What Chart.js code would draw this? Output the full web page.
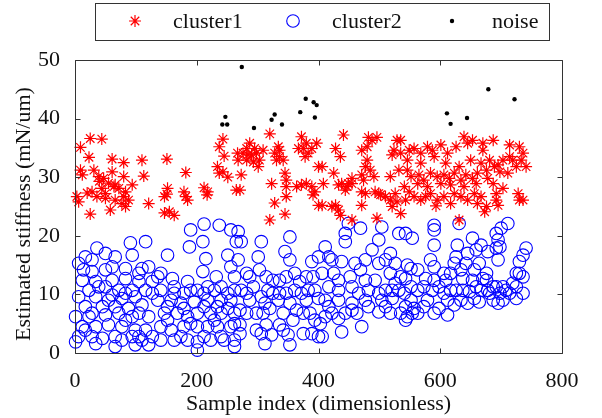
<!DOCTYPE html>
<html><head><meta charset="utf-8">
<script src="https://cdn.jsdelivr.net/npm/chart.js@4/dist/chart.umd.min.js"></script>
<style>html,body{margin:0;padding:0;background:#fff;}#wrap{width:602px;height:418px;}</style>
</head><body><div id="wrap"><canvas id="c" width="602" height="418"></canvas></div>
<script>
const seriesLabels = ['cluster1', 'cluster2', 'noise'];
const xTicks = [0, 200, 400, 600, 800];
const yTicks = [0, 10, 20, 30, 40, 50];
const xTitle = 'Sample index (dimensionless)';
const yTitle = 'Estimated stiffness (mN/um)';

// cluster1 [sample index, stiffness]
const cluster1 = [
[25,36.6],[44,36.5],[9,35.1],[23,33.4],[61,33.1],[80,32.5],[110,32.9],[9,31.2],[39,30.1],[61,30.9],[80,30.1],[113,30.2],[12,30.4],[28,27.5],[44,28.1],[55,29.0],[72,28.1],[94,28.7],[3,26.7],[20,27.3],[36,26.7],[50,26.4],[66,26.1],[80,26.7],[6,25.8],[58,24.4],[77,25.5],[121,25.5],[25,23.7],[40,29.3],
[47,29.8],[64,28.4],[83,27.5],[50,27.2],[66,28.7],[88,26.1],[31,31.2],[83,25.0],
[151,33.1],[182,30.8],[152,28.1],[151,27.1],[179,27.5],[182,26.7],[212,28.2],[217,27.0],[147,23.9],[163,23.5],[243,36.5],[237,35.2],[245,33.6],[237,30.7],[251,30.0],[265,27.8],[267,34.1],
[147,26.7],[185,26.1],[218,27.5],[234,31.8],[243,30.9],[155,24.1],
[320,37.4],[287,35.8],[276,34.1],[290,33.8],[298,34.1],[309,34.6],[282,32.9],[293,32.6],[301,31.8],[273,30.4],[334,35.2],[336,33.5],[331,32.9],[345,30.7],[323,28.9],[347,28.4],[372,36.9],[380,35.8],[367,34.9],[383,34.1],[397,35.8],[372,28.7],[389,28.4],[400,31.8],[271,27.8],[328,25.6],[347,26.7],[391,27.0],[320,22.7],[345,23.7],[400,25.2],
[282,34.9],[295,34.9],[284,33.8],[303,32.9],[268,32.9],[328,34.1],[342,32.9],[375,34.9],[389,34.9],[378,33.5],[364,28.4],[380,28.9],[394,27.5],[336,34.6],[347,29.5],
[441,37.2],[482,36.8],[496,36.8],[529,36.3],[428,34.9],[471,34.6],[436,33.5],[480,32.9],[521,33.8],[535,34.1],[406,31.8],[425,30.7],[455,29.8],[485,31.2],[491,30.1],[518,30.1],[532,31.2],[408,28.9],[433,28.7],[449,28.9],[471,27.5],[499,27.2],[510,26.7],[526,27.2],[406,25.2],[428,25.2],[436,23.5],[455,22.7],[471,25.2],[496,23.0],[521,25.0],[535,23.8],[444,27.8],[474,29.5],
[438,28.9],[447,28.4],[455,28.9],[477,27.2],[493,27.5],[502,27.0],[518,26.1],[471,30.4],[477,31.8],[529,25.8],[422,25.0],[433,24.4],[488,36.3],[480,35.2],[524,34.6],
[535,36.3],[557,34.9],[579,35.2],[601,35.5],[626,35.2],[639,36.9],[653,36.3],[670,35.8],[546,32.9],[568,32.4],[590,33.5],[609,32.4],[631,31.8],[650,32.9],[667,32.4],[546,31.2],[565,30.4],[584,30.7],[606,30.4],[623,30.7],[642,30.4],[661,30.7],[541,28.4],[563,28.9],[579,28.4],[601,28.9],[617,28.7],[639,28.4],[659,28.9],[557,26.7],[576,26.7],[595,26.1],[623,27.2],[645,26.1],[667,26.7],[593,25.1],[631,22.7],[543,26.1],
[549,34.6],[568,34.1],[587,34.6],[612,34.1],[645,35.8],[552,30.1],[573,29.5],[595,30.1],[615,29.8],[634,29.5],[653,29.8],[549,27.5],[584,27.2],[606,26.7],[634,26.7],[656,27.2],[568,26.1],[617,25.5],[661,25.5],
[687,36.3],[714,35.5],[730,35.2],[736,34.1],[670,34.6],[681,32.9],[695,32.1],[719,32.9],[733,32.9],[741,31.8],[676,31.2],[698,30.9],[711,30.7],[725,31.8],[687,28.9],[703,28.1],[692,27.2],[728,27.2],[736,26.1],[676,25.0],[695,25.2],[673,24.1],
[703,32.9],[714,33.5],[689,31.8],[678,29.8],[730,26.1],[692,26.1]
];

// cluster2 [sample index, stiffness]
const cluster2 = [
[91,18.8],[116,19.0],[36,17.9],[50,17.0],[66,16.4],[94,16.7],[17,16.4],[6,15.3],[14,14.2],[28,13.9],[50,14.2],[83,14.4],[110,14.4],[121,14.7],[12,12.4],[34,12.2],[61,12.4],[83,12.7],[105,12.2],[127,12.2],[23,10.7],[50,11.3],[72,10.7],[94,10.7],[116,10.7],[6,9.6],[34,9.6],[61,9.9],[77,9.3],[99,9.6],[127,10.2],[17,7.9],[45,7.9],[66,7.9],[88,7.6],[110,8.2],[1,6.2],[23,6.2],[50,6.5],[72,6.8],[94,6.2],[121,6.2],[12,4.5],[34,4.5],[55,4.8],[77,4.5],[99,3.9],[116,3.9],[6,2.8],[28,2.8],[45,2.5],[66,2.8],[94,2.8],[110,2.2],[127,2.8],[66,1.1],[99,1.4],[121,1.4],[1,1.9],[34,1.6],
[28,15.9],[61,14.7],[105,13.6],[39,11.3],[83,10.2],[55,9.0],[105,6.8],[28,6.8],[83,5.6],[105,2.8],[17,3.9],[77,2.2],
[190,21.0],[212,22.0],[237,21.8],[256,21.0],[188,18.1],[210,19.0],[215,16.1],[152,16.7],[251,16.7],[265,19.0],[210,13.9],[256,14.7],[136,13.0],[160,12.7],[185,12.2],[232,13.0],[262,13.0],[141,10.7],[163,11.3],[179,10.2],[201,10.7],[218,11.3],[240,11.3],[262,10.7],[136,9.0],[158,9.0],[174,8.5],[196,8.7],[218,9.0],[240,9.0],[256,9.0],[147,6.8],[168,6.8],[185,6.2],[201,6.8],[223,6.8],[240,6.8],[262,6.8],[141,4.5],[158,3.9],[179,4.5],[201,4.5],[218,4.5],[234,4.5],[256,4.5],[141,2.2],[163,2.2],[185,2.2],[201,1.9],[223,2.2],[245,2.2],[262,2.2],[201,0.5],[262,1.1],
[141,13.6],[163,10.2],[190,10.7],[212,10.2],[229,10.7],[251,10.2],[152,7.9],[179,7.6],[212,7.9],[234,7.9],[251,7.6],[152,5.6],[190,5.0],[229,5.6],[262,5.0],[174,2.8],[212,2.8],[240,2.8],
[268,20.7],[273,19.0],[306,19.0],[353,19.8],[268,15.9],[301,16.4],[345,17.3],[353,15.9],[389,15.6],[400,16.4],[282,13.6],[303,14.2],[325,12.4],[347,13.0],[369,12.2],[391,13.0],[273,10.7],[293,11.3],[317,10.7],[336,10.2],[361,10.7],[383,10.7],[287,9.0],[312,8.5],[334,9.0],[353,8.5],[380,9.0],[400,9.3],[271,7.3],[298,6.8],[320,7.6],[364,7.3],[386,6.8],[271,4.8],[314,4.8],[336,4.8],[358,5.6],[394,5.6],[271,3.3],[306,3.3],[323,3.1],[350,3.1],[389,3.3],[312,1.6],[353,1.4],[400,2.8],
[287,13.0],[314,13.0],[336,12.4],[361,13.6],[380,13.0],[282,10.2],[306,9.6],[325,10.2],[347,10.2],[372,10.2],[394,10.7],[282,6.8],[309,6.8],[342,6.8],[375,6.8],[298,3.9],[342,3.9],[375,3.3],
[449,22.1],[469,21.3],[444,20.4],[444,19.0],[504,21.5],[499,19.3],[532,20.4],[411,18.1],[488,17.6],[518,17.0],[417,16.4],[438,15.6],[460,15.3],[499,15.3],[526,15.3],[406,13.6],[425,13.6],[452,13.0],[469,14.2],[493,12.4],[518,13.6],[535,13.0],[417,11.3],[455,11.3],[482,10.7],[510,10.7],[532,10.7],[411,9.0],[433,9.0],[455,8.5],[477,9.0],[504,9.0],[521,9.3],[422,6.8],[444,6.8],[463,6.8],[499,7.0],[518,6.8],[535,6.8],[403,5.0],[438,3.6],[471,4.5],[406,2.8],
[422,15.9],[477,15.9],[510,15.9],[433,12.4],[477,12.4],[526,11.9],[433,10.7],[466,10.2],[499,10.2],[521,10.7],[417,7.9],[455,7.3],[482,7.9],[510,7.9],[411,6.2],[433,5.9],
[543,20.4],[554,19.6],[590,21.8],[590,21.0],[631,22.1],[590,18.4],[628,18.4],[653,19.6],[667,18.4],[584,15.9],[626,16.4],[645,17.0],[659,17.6],[546,15.0],[552,14.4],[623,15.3],[642,15.3],[664,15.3],[543,12.7],[576,12.7],[590,12.4],[609,12.4],[617,13.6],[637,12.7],[653,12.4],[670,12.7],[541,10.2],[563,10.7],[587,10.7],[606,10.2],[626,10.7],[648,10.5],[667,10.7],[543,7.9],[557,7.6],[573,7.9],[598,7.6],[623,8.2],[645,8.5],[664,8.7],[546,6.2],[563,6.8],[543,5.6],
[563,14.2],[590,14.7],[606,13.6],[634,14.2],[656,14.2],[552,11.3],[573,11.3],[598,11.3],[617,10.7],[637,10.7],[659,11.3],[552,9.0],[579,9.0],[612,9.0],[634,9.0],[656,9.3],[554,6.8],[590,6.8],[612,6.5],
[711,22.1],[700,21.3],[695,19.3],[692,17.9],[695,15.9],[741,17.9],[736,16.7],[730,15.6],[678,17.3],[725,13.6],[676,12.4],[687,11.3],[703,11.3],[719,11.9],[736,13.0],[681,10.2],[698,10.2],[714,10.2],[695,8.5],[725,9.3],[676,13.6],
[692,20.4],[698,18.1],[730,13.6],[692,11.3],[708,10.7],[725,11.3],[687,9.0],[703,9.0],[736,10.2],[678,10.7]
];

// noise [sample index, stiffness]
const noise = [
[274,48.8],[247,40.3],[242,39.0],[250,39.0],[294,38.4],[328,40.7],[323,39.8],[340,39.0],[370,41.1],[379,43.4],[392,42.8],[397,42.3],[394,40.2],[611,40.9],[617,39.1],[644,40.1],[679,45.0],[722,43.3]
];

const toPts = a => a.map(p => ({x: p[0], y: p[1]}));
const FONT = '"Liberation Serif", "Times New Roman", serif';

const styles = [
  {pointStyle: 'star', radius: 6, borderColor: '#ff0000', backgroundColor: '#ff0000', borderWidth: 1.2},
  {pointStyle: 'circle', radius: 6.3, borderColor: '#0000ff', backgroundColor: 'rgba(0,0,0,0)', borderWidth: 1.1},
  {pointStyle: 'circle', radius: 2.2, borderColor: '#000000', backgroundColor: '#000000', borderWidth: 0}
];

const frame = {
  id: 'frame',
  afterDatasetsDraw(chart) {
    const {ctx, chartArea: a, scales: {x, y}} = chart;
    ctx.save();
    ctx.strokeStyle = '#333';
    ctx.lineWidth = 1;
    const L = Math.round(a.left) + 0.5, R = Math.round(a.right) + 0.5;
    const T = Math.round(a.top) + 0.5, B = Math.round(a.bottom) + 0.5;
    ctx.beginPath();
    ctx.rect(L, T, R - L, B - T);
    const tl = 5;
    xTicks.forEach(v => {
      const px = Math.round(x.getPixelForValue(v)) + 0.5;
      ctx.moveTo(px, B); ctx.lineTo(px, B - tl);
      ctx.moveTo(px, T); ctx.lineTo(px, T + tl);
    });
    yTicks.forEach(v => {
      const py = Math.round(y.getPixelForValue(v)) + 0.5;
      ctx.moveTo(L, py); ctx.lineTo(L + tl, py);
      ctx.moveTo(R, py); ctx.lineTo(R - tl, py);
    });
    ctx.stroke();
    ctx.restore();
  },
  afterDraw(chart) {
    const ctx = chart.ctx;
    // y axis title
    ctx.save();
    ctx.translate(24, 214);
    ctx.rotate(-Math.PI / 2);
    ctx.font = '22px ' + FONT;
    ctx.fillStyle = '#111';
    ctx.textAlign = 'center';
    ctx.textBaseline = 'middle';
    ctx.fillText(yTitle, 0, 0);
    ctx.restore();
    // legend box
    ctx.save();
    ctx.fillStyle = '#fff';
    ctx.fillRect(96, 4, 453, 36);
    ctx.strokeStyle = '#333';
    ctx.lineWidth = 1;
    ctx.strokeRect(95.5, 3.5, 454, 37);
    ctx.restore();
    const cy = 21;
    const markX = [135, 293, 452];
    const textX = [173, 332, 492];
    for (let i = 0; i < 3; i++) {
      const s = styles[i];
      ctx.save();
      ctx.strokeStyle = s.borderColor;
      ctx.fillStyle = s.backgroundColor;
      ctx.lineWidth = s.borderWidth || 0.001;
      Chart.helpers.drawPoint(ctx, {pointStyle: s.pointStyle, radius: s.radius, borderWidth: s.borderWidth, rotation: 0}, markX[i], cy);
      ctx.restore();
      ctx.save();
      ctx.font = '22px ' + FONT;
      ctx.fillStyle = '#111';
      ctx.textAlign = 'left';
      ctx.textBaseline = 'middle';
      ctx.fillText(seriesLabels[i], textX[i], cy + 1);
      ctx.restore();
    }
  }
};

const datasets = [cluster1, cluster2, noise].map((d, i) => ({
  label: seriesLabels[i],
  data: toPts(d),
  pointStyle: styles[i].pointStyle,
  pointRadius: styles[i].radius,
  pointHoverRadius: styles[i].radius,
  pointBorderColor: styles[i].borderColor,
  pointBackgroundColor: styles[i].backgroundColor,
  pointBorderWidth: styles[i].borderWidth,
  showLine: false,
  clip: false
}));

new Chart(document.getElementById('c'), {
  type: 'scatter',
  data: {datasets},
  plugins: [frame],
  options: {
    responsive: false,
    animation: false,
    events: [],
    layout: {padding: {top: 60, right: 40, left: 0, bottom: 0}},
    plugins: {legend: {display: false}, tooltip: {enabled: false}},
    scales: {
      x: {
        type: 'linear', min: 0, max: 800,
        afterBuildTicks: s => { s.ticks = xTicks.map(v => ({value: v})); },
        afterFit: s => { s.height = 65; },
        grid: {display: false}, border: {display: false},
        ticks: {font: {family: FONT, size: 22}, color: '#111', padding: 7, maxRotation: 0},
        title: {display: true, text: xTitle, font: {family: FONT, size: 22}, color: '#111', padding: {top: 0, bottom: 1}}
      },
      y: {
        type: 'linear', min: 0, max: 50,
        afterBuildTicks: s => { s.ticks = yTicks.map(v => ({value: v})); },
        afterFit: s => { s.width = 75; },
        grid: {display: false}, border: {display: false},
        ticks: {font: {family: FONT, size: 22}, color: '#111', padding: 7},
        title: {display: false}
      }
    }
  }
});
</script>
</body></html>
